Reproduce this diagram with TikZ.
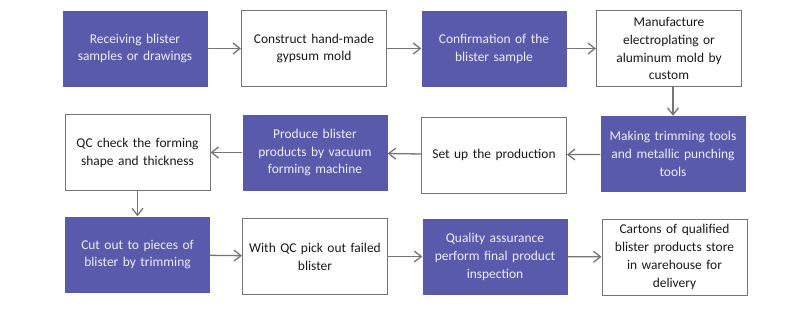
\documentclass[tikz,border=0pt]{standalone}
\usepackage{fontspec}
\usetikzlibrary{arrows.meta}
\setmainfont{Carlito}
\definecolor{stepblue}{RGB}{90,90,172}
\definecolor{edgegray}{RGB}{118,118,118}
\begin{document}
\begin{tikzpicture}[x=1bp,y=-1bp,
  box/.style={minimum width=145bp,minimum height=76bp,align=center,text width=135bp,
    font=\fontsize{13.5}{18}\selectfont,inner sep=0pt},
  bluebox/.style={box,fill=stepblue,text=white!90!stepblue},
  whitebox/.style={box,draw=edgegray,line width=1pt,fill=white,text=black!90},
  flow/.style={-{Straight Barb[length=7bp,width=11bp,line width=1.3pt]},edgegray,line width=1.3pt}]
\useasboundingbox[fill=white] (0,0) rectangle (800,315);
% first row
\node[bluebox]  (recv) at (135,48.5) {Receiving blister\\samples or drawings};
\node[whitebox] (gyps) at (314,48.5) {Construct hand-made\\gypsum mold};
\node[bluebox]  (conf) at (494,48.5) {Confirmation of the\\blister sample};
\node[whitebox] (mold) at (669,48.5) {Manufacture\\electroplating or\\aluminum mold by\\custom};
% second row
\node[bluebox]  (trim) at (673,154) {Making trimming tools\\and metallic punching\\tools};
\node[whitebox] (setup) at (494,155) {Set up the production};
\node[bluebox]  (vac) at (315,152.5) {Produce blister\\products by vacuum\\forming machine};
\node[whitebox] (qc) at (137.5,152.5) {QC check the forming\\shape and thickness};
% third row
\node[bluebox]  (cut) at (137.5,254.5) {Cut out to pieces of\\blister by trimming};
\node[whitebox] (pick) at (315,256.5) {With QC pick out failed\\blister};
\node[bluebox]  (qa) at (495,256.5) {Quality assurance\\perform final product\\inspection};
\node[whitebox] (store) at (674.5,257) {Cartons of qualified\\blister products store\\in warehouse for\\delivery};
% arrows
\draw[flow] (recv) -- (gyps);
\draw[flow] (gyps) -- (conf);
\draw[flow] (conf) -- (mold);
\draw[flow] (mold.south -| trim.north) -- (trim);
\draw[flow] (trim) -- (setup);
\draw[flow] (setup) -- (vac);
\draw[flow] (vac) -- (qc);
\draw[flow] (qc.south -| cut.north) -- (cut);
\draw[flow] (cut) -- (pick);
\draw[flow] (pick) -- (qa);
\draw[flow] (qa) -- (store);
\end{tikzpicture}
\end{document}
